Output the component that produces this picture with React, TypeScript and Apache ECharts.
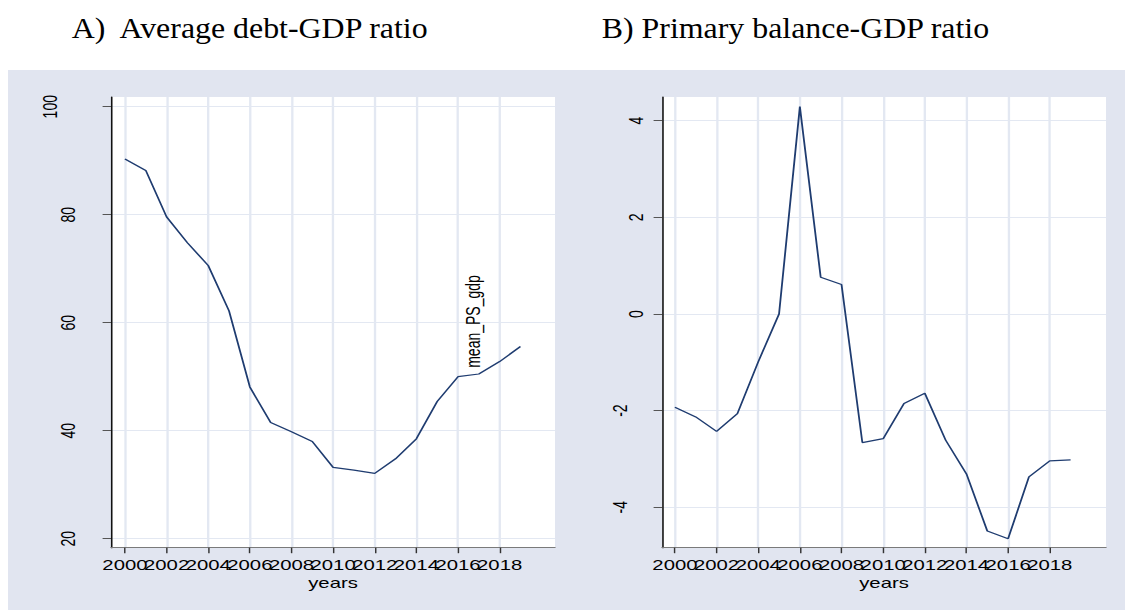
import React, { useEffect, useRef } from "react";
import * as echarts from "echarts";

// ---- data ----
const years = [2000, 2001, 2002, 2003, 2004, 2005, 2006, 2007, 2008, 2009, 2010, 2011, 2012, 2013, 2014, 2015, 2016, 2017, 2018, 2019];
const debtRatio = [90.3, 88.2, 79.6, 74.8, 70.6, 62.2, 48.1, 41.5, 39.8, 38.0, 33.2, 32.7, 32.1, 34.8, 38.5, 45.4, 50.0, 50.5, 52.8, 55.6];
const primaryBalance = [-1.93, -2.13, -2.43, -2.06, -0.99, 0.0, 4.29, 0.76, 0.61, -2.66, -2.58, -1.85, -1.64, -2.61, -3.31, -4.49, -4.65, -3.37, -3.04, -3.02];

const yearTicks = [2000, 2002, 2004, 2006, 2008, 2010, 2012, 2014, 2016, 2018];
const debtTicks = [20, 40, 60, 80, 100];
const balanceTicks = [-4, -2, 0, 2, 4];

const panelTitles = ["A)  Average debt-GDP ratio", "B) Primary balance-GDP ratio"];
const xAxisTitle = "years";
const debtNoteYear = 2016;
const debtNoteText = "mean_PS_gdp";

// ---- look ----
const SANS = "'Liberation Sans', Arial, Helvetica, sans-serif";
const SERIF = "'Liberation Serif', 'Times New Roman', serif";
const PANEL_BG = "#e1e5f0";
const GRID_LINE = "#e3e8f2";
const LINE_COLOR = "#1f3c70";

// The plots are drawn narrow and stretched sideways, the titles only slightly.
const PAGE_W = 1125;
const PLOT_LEFT = 8;
const PLOT_TOP = 70;
const PLOT_W = 770;
const PLOT_H = 540;
const PLOT_STRETCH = (PAGE_W - PLOT_LEFT) / PLOT_W;
const TITLE_W = 1023;
const TITLE_H = 70;
const TITLE_STRETCH = PAGE_W / TITLE_W;

const toLocalX = (pageX: number) => (pageX - PLOT_LEFT) / PLOT_STRETCH;
const toLocalY = (pageY: number) => pageY - PLOT_TOP;

// Neighbouring year labels touch, so every other year goes on a twin axis
// laid over the first one; that keeps ECharts from dropping any of them.
const yearTicksEven = yearTicks.filter((_, i) => i % 2 === 0);
const yearTicksOdd = yearTicks.filter((_, i) => i % 2 === 1);

function gridBox(pageLeft: number, pageRight: number) {
  const left = toLocalX(pageLeft);
  const right = toLocalX(pageRight);
  const top = toLocalY(97);
  const bottom = toLocalY(547.7);
  return {
    left,
    top,
    width: right - left,
    height: bottom - top,
    show: true,
    backgroundColor: "#ffffff",
    borderWidth: 0,
  };
}

function xAxisFor(gridIndex: number, min: number, max: number, ticks: number[], primary: boolean) {
  return {
    type: "value",
    gridIndex,
    position: "bottom",
    offset: 0,
    min,
    max,
    name: primary ? xAxisTitle : "",
    nameLocation: "middle",
    nameGap: 21,
    nameTextStyle: { fontFamily: SANS, fontSize: 14, color: "#000" },
    axisLine: { show: primary, onZero: false, lineStyle: { color: "#7a7a7a", width: 1 } },
    axisTick: { show: true, length: 5.5, customValues: ticks, lineStyle: { color: "#333", width: 1 } },
    axisLabel: {
      customValues: ticks,
      showMinLabel: true,
      showMaxLabel: true,
      margin: 10,
      fontFamily: SANS,
      fontSize: 14,
      color: "#000",
      formatter: (v: number) => String(v),
    },
    splitLine: { show: true, lineStyle: { color: GRID_LINE, width: 1.6 } },
  };
}

function yAxisFor(
  gridIndex: number,
  min: number,
  max: number,
  ticks: number[],
  margin: number,
  isWide: (v: number) => boolean,
  widePad: number
) {
  const token = { fontFamily: SANS, fontSize: 14, color: "#000" };
  return {
    type: "value",
    gridIndex,
    min,
    max,
    axisLine: { show: true, onZero: false, lineStyle: { color: "#111", width: 1.1 } },
    axisTick: { show: true, length: 5.8, customValues: ticks, lineStyle: { color: "#555", width: 1 } },
    axisLabel: {
      customValues: ticks,
      showMinLabel: true,
      showMaxLabel: true,
      rotate: 90,
      margin,
      formatter: (v: number) => (isWide(v) ? `{w|${v}}` : `{n|${v}}`),
      rich: {
        n: { ...token },
        w: { ...token, padding: [0, 0, widePad, 0] },
      },
    },
    splitLine: { show: true, lineStyle: { color: GRID_LINE, width: 1 } },
  };
}

const debtData = years.map((yr, i) => {
  if (yr !== debtNoteYear) return [yr, debtRatio[i]];
  return {
    value: [yr, debtRatio[i]],
    symbol: "circle",
    symbolSize: 1,
    itemStyle: { color: "rgba(0,0,0,0)" },
    label: {
      show: true,
      formatter: debtNoteText,
      position: "top",
      distance: 0,
      rotate: 90,
      align: "left",
      verticalAlign: "middle",
      // offset is taken along the rotated text: first up the page, then to the right
      offset: [8.4, 10.1],
      fontFamily: SANS,
      fontSize: 14,
      color: "#000",
    },
  };
});

const balanceData = years.map((yr, i) => [yr, primaryBalance[i]]);

const debtRange = [1999.33, 2020.66];
const balanceRange = [1999.38, 2020.7];

const plotOption = {
  animation: false,
  backgroundColor: PANEL_BG,
  grid: [gridBox(111, 555), gridBox(662, 1106)],
  xAxis: [
    xAxisFor(0, debtRange[0], debtRange[1], yearTicksEven, true),
    xAxisFor(0, debtRange[0], debtRange[1], yearTicksOdd, false),
    xAxisFor(1, balanceRange[0], balanceRange[1], yearTicksEven, true),
    xAxisFor(1, balanceRange[0], balanceRange[1], yearTicksOdd, false),
  ],
  yAxis: [
    yAxisFor(0, 18.33, 101.8, debtTicks, 22.5, (v) => v >= 100, 12.4),
    yAxisFor(1, -4.836, 4.49, balanceTicks, 10.8, (v) => v < 0, 11.2),
  ],
  series: [
    {
      type: "line",
      xAxisIndex: 0,
      yAxisIndex: 0,
      data: debtData,
      symbol: "none",
      silent: true,
      lineStyle: { color: LINE_COLOR, width: 1.25 },
    },
    {
      type: "line",
      xAxisIndex: 2,
      yAxisIndex: 1,
      data: balanceData,
      symbol: "none",
      silent: true,
      lineStyle: { color: LINE_COLOR, width: 1.25 },
    },
  ],
};

const titleStyle = { fontFamily: SERIF, fontSize: 29, fontWeight: "normal", color: "#000" };

const titleOption = {
  animation: false,
  title: [
    { text: panelTitles[0], left: 71.7 / TITLE_STRETCH, top: 14, padding: 0, textStyle: titleStyle },
    { text: panelTitles[1], left: 601.7 / TITLE_STRETCH, top: 14, padding: 0, textStyle: titleStyle },
  ],
};

export default function App() {
  const titleRef = useRef<HTMLDivElement>(null);
  const plotRef = useRef<HTMLDivElement>(null);

  useEffect(() => {
    const titles = echarts.init(titleRef.current!, null, { renderer: "svg" });
    const plots = echarts.init(plotRef.current!, null, { renderer: "svg" });
    titles.setOption(titleOption as any);
    plots.setOption(plotOption as any);
    return () => {
      titles.dispose();
      plots.dispose();
    };
  }, []);

  return (
    <div
      style={{
        position: "fixed",
        left: 0,
        top: 0,
        width: PAGE_W,
        height: 610,
        background: "#ffffff",
        overflow: "hidden",
      }}
    >
      <div
        ref={titleRef}
        style={{
          position: "absolute",
          left: 0,
          top: 0,
          width: TITLE_W,
          height: TITLE_H,
          transform: `scaleX(${TITLE_STRETCH})`,
          transformOrigin: "0 0",
        }}
      />
      <div
        ref={plotRef}
        style={{
          position: "absolute",
          left: PLOT_LEFT,
          top: PLOT_TOP,
          width: PLOT_W,
          height: PLOT_H,
          transform: `scaleX(${PLOT_STRETCH})`,
          transformOrigin: "0 0",
        }}
      />
    </div>
  );
}
